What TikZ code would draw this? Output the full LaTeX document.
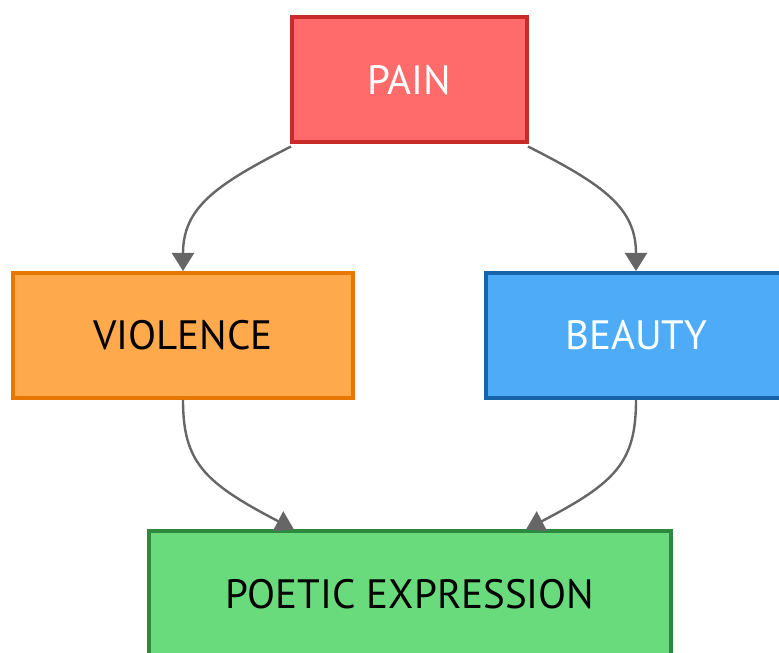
\documentclass[tikz,border=0pt]{standalone}
\usepackage{fontspec}
\setmainfont{PT Sans}
\usetikzlibrary{arrows.meta}

\definecolor{painfill}{HTML}{FF6B6B}
\definecolor{paindraw}{HTML}{C92A2A}
\definecolor{violfill}{HTML}{FFA94D}
\definecolor{violdraw}{HTML}{E67700}
\definecolor{beautyfill}{HTML}{4DABF7}
\definecolor{beautydraw}{HTML}{1864AB}
\definecolor{poeticfill}{HTML}{69DB7C}
\definecolor{poeticdraw}{HTML}{2B8A3E}
\definecolor{linkgray}{HTML}{666666}

\begin{document}
\begin{tikzpicture}
[
	x=1pt, y=1pt,
	box/.style={rectangle,draw,line width=4pt,minimum height=125pt,inner sep=0pt,font=\fontsize{41}{49}\selectfont},
	link/.style={draw=linkgray,line width=2.4pt,-{Triangle[width=22pt,length=18pt]}}
]

	% frame
	\useasboundingbox (0,0) rectangle (779,653);
	\clip (0,0) rectangle (779,653);

	% nodes
	\node[box,fill=painfill,draw=paindraw,text=white,minimum width=235pt] (pain) at (409.5,573) {PAIN};
	\node[box,fill=violfill,draw=violdraw,text=black,minimum width=340pt] (violence) at (183,317.5) {VIOLENCE};
	\node[box,fill=beautyfill,draw=beautydraw,text=white,minimum width=300pt] (beauty) at (636,317.5) {BEAUTY};
	\node[box,fill=poeticfill,draw=poeticdraw,text=black,minimum width=522pt] (poetic) at (410,59) {POETIC EXPRESSION};

	% links
	\draw[link] ([shift={(1pt,-2pt)}]pain.south west) .. controls (215,468) and (183,445) .. (violence.north);
	\draw[link] ([shift={(-1pt,-2pt)}]pain.south east) .. controls (604,468) and (636,445) .. (beauty.north);
	\draw[link] (violence.south) .. controls (183,190) and (205,170) .. ([xshift=147pt]poetic.north west);
	\draw[link] (beauty.south) .. controls (636,190) and (615,170) .. ([xshift=-147pt]poetic.north east);

\end{tikzpicture}
\end{document}
